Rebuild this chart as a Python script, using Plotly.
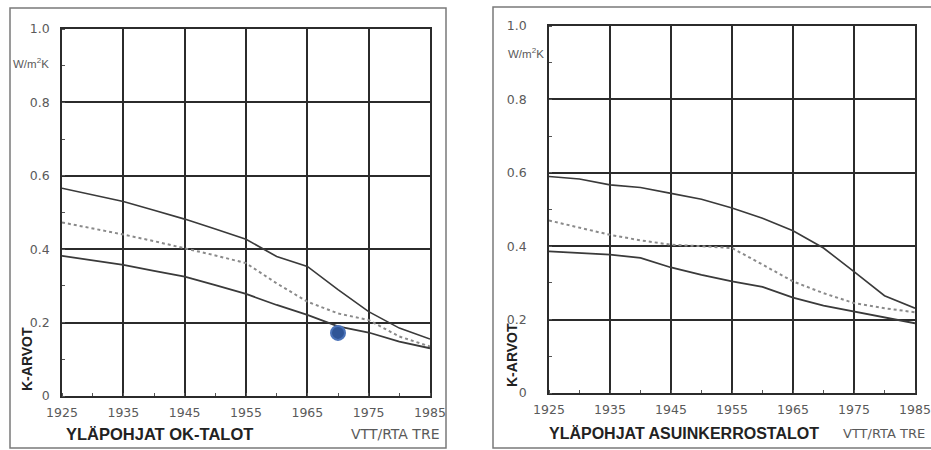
import plotly.graph_objects as go

W, H = 931, 450

years = [1925, 1930, 1935, 1940, 1945, 1950, 1955, 1960, 1965, 1970, 1975, 1980, 1985]

# Left panel: YLÄPOHJAT OK-TALOT
ok_upper = [0.566, 0.548, 0.530, 0.506, 0.482, 0.455, 0.427, 0.380, 0.353, 0.290, 0.230, 0.185, 0.155]
ok_mean = [0.473, 0.457, 0.440, 0.422, 0.403, 0.383, 0.362, 0.307, 0.257, 0.225, 0.207, 0.162, 0.135]
ok_lower = [0.382, 0.370, 0.357, 0.341, 0.325, 0.302, 0.278, 0.248, 0.221, 0.190, 0.173, 0.148, 0.130]

# Right panel: YLÄPOHJAT ASUINKERROSTALOT
ak_upper = [0.590, 0.583, 0.567, 0.560, 0.544, 0.528, 0.504, 0.476, 0.442, 0.395, 0.331, 0.265, 0.231]
ak_mean = [0.470, 0.450, 0.431, 0.416, 0.404, 0.400, 0.395, 0.350, 0.304, 0.272, 0.245, 0.231, 0.220]
ak_lower = [0.386, 0.382, 0.377, 0.368, 0.342, 0.322, 0.304, 0.289, 0.260, 0.238, 0.222, 0.207, 0.190]

marker_x = [1970]
marker_y = [0.172]

x_ticks = [1925, 1935, 1945, 1955, 1965, 1975, 1985]
y_ticks = [0, 0.2, 0.4, 0.6, 0.8, 1.0]
y_ticklabels = ["0", "0.2", "0.4", "0.6", "0.8", "1.0"]

titles = ["YLÄPOHJAT OK-TALOT", "YLÄPOHJAT ASUINKERROSTALOT"]
source = "VTT/RTA TRE"
unit = "W/m<sup>2</sup>K"
ytitle = "K-ARVOT"

GRID = "#2b2b2b"
LINE = "#3a3a3a"
DOT = "#8a8a8a"
TXT = "#5a5a5a"
FONT = "Liberation Sans, Arial, sans-serif"
WIDEFONT = "DejaVu Sans, Verdana, sans-serif"


def px(x):
    return x / W


def py(y):
    return 1 - y / H


fig = go.Figure()

panels = [
    dict(xa="x", ya="y", data=(ok_upper, ok_mean, ok_lower),
         xd=[px(62), px(430)], yd=[py(396), py(29)]),
    dict(xa="x2", ya="y2", data=(ak_upper, ak_mean, ak_lower),
         xd=[px(549), px(915)], yd=[py(393), py(26)]),
]

for p in panels:
    up, mn, lo = p["data"]
    fig.add_trace(go.Scatter(x=years, y=up, mode="lines", xaxis=p["xa"], yaxis=p["ya"],
                             line=dict(color=LINE, width=1.6), showlegend=False))
    fig.add_trace(go.Scatter(x=years, y=mn, mode="lines", xaxis=p["xa"], yaxis=p["ya"],
                             line=dict(color=DOT, width=2, dash="dot"), showlegend=False))
    fig.add_trace(go.Scatter(x=years, y=lo, mode="lines", xaxis=p["xa"], yaxis=p["ya"],
                             line=dict(color=LINE, width=1.8), showlegend=False))

fig.add_trace(go.Scatter(x=marker_x, y=marker_y, mode="markers", xaxis="x", yaxis="y",
                         marker=dict(size=14, color="#2f5597", line=dict(color="#4a72b8", width=2)),
                         showlegend=False))

axis_common = dict(
    showgrid=True, gridcolor=GRID, gridwidth=1.5, automargin=False,
    showline=True, linecolor=GRID, linewidth=1.5, mirror=True,
    zeroline=False, ticks="", tickfont=dict(family=WIDEFONT, size=12.5, color=TXT),
    ticklabeloverflow="allow",
    minor=dict(ticks="inside", ticklen=3, tickcolor="#555", showgrid=False),
)

layout = dict(
    width=W, height=H, margin=dict(l=0, r=0, t=0, b=0, pad=0),
    paper_bgcolor="white", plot_bgcolor="white", showlegend=False,
)

for i, p in enumerate(panels):
    sx = "" if i == 0 else "2"
    layout["xaxis" + sx] = dict(axis_common, domain=p["xd"], range=[1925, 1985],
                                tickvals=x_ticks, ticklabelstandoff=4,
                                anchor="y" + sx, minor=dict(axis_common["minor"], dtick=5, tick0=1925))
    layout["yaxis" + sx] = dict(axis_common, domain=p["yd"], range=[0, 1],
                                tickvals=y_ticks, ticktext=y_ticklabels,
                                ticklabelstandoff=8 if i == 0 else 18,
                                anchor="x" + sx, minor=dict(axis_common["minor"], dtick=0.1, tick0=0))

fig.update_layout(**layout)

shapes = [
    dict(type="rect", xref="paper", yref="paper", x0=px(10), x1=px(446), y0=py(448), y1=py(8),
         line=dict(color="#7a7a7a", width=1.5)),
    dict(type="rect", xref="paper", yref="paper", x0=px(493), x1=px(933), y0=py(448), y1=py(7),
         line=dict(color="#7a7a7a", width=1.5)),
]
fig.update_layout(shapes=shapes)

ann = []
# titles
ann.append(dict(text="<b>" + titles[0] + "</b>", x=px(64), y=py(434), xanchor="left", yanchor="middle",
                font=dict(family=FONT, size=16.5, color="#222")))
ann.append(dict(text=source, x=px(441), y=py(434), xanchor="right", yanchor="middle",
                font=dict(family=WIDEFONT, size=14, color=TXT)))
ann.append(dict(text="<b>" + titles[1] + "</b>", x=px(547), y=py(433), xanchor="left", yanchor="middle",
                font=dict(family=FONT, size=16, color="#222")))
ann.append(dict(text=source, x=px(927), y=py(433), xanchor="right", yanchor="middle",
                font=dict(family=WIDEFONT, size=13, color=TXT)))
# units
ann.append(dict(text=unit, x=px(11), y=py(63), xanchor="left", yanchor="middle",
                font=dict(family=FONT, size=11.5, color=TXT)))
ann.append(dict(text=unit, x=px(506), y=py(53), xanchor="left", yanchor="middle",
                font=dict(family=FONT, size=11.5, color=TXT)))
# y titles
ann.append(dict(text="<b>" + ytitle + "</b>", x=px(27), y=py(359), textangle=-90,
                xanchor="center", yanchor="middle", font=dict(family=FONT, size=14, color="#222")))
ann.append(dict(text="<b>" + ytitle + "</b>", x=px(512), y=py(355), textangle=-90,
                xanchor="center", yanchor="middle", font=dict(family=FONT, size=14, color="#222")))
for a in ann:
    a.update(xref="paper", yref="paper", showarrow=False)
fig.update_layout(annotations=ann)

fig.write_html("out.html", config={"displayModeBar": False},
               post_script="document.body.style.margin='0';document.body.style.overflow='hidden';")
